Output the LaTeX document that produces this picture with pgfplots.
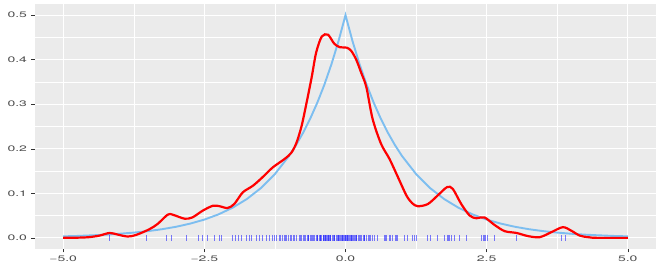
\documentclass[border=0pt]{standalone}
\usepackage{pgfplots}
\pgfplotsset{compat=1.18}
\usepackage{fontspec}
\setmainfont{TeX Gyre Heros}
\usepackage{graphicx}
\definecolor{panel}{HTML}{EBEBEB}
\definecolor{txt}{HTML}{4D4D4D}
\definecolor{tk}{HTML}{333333}
\definecolor{lap}{RGB}{125,190,240}
\newcommand\sx[1]{\scalebox{1.75}[1]{#1}}
\begin{document}
\begin{tikzpicture}
\begin{axis}[
  scale only axis, width=621bp, height=245bp,
  xmin=-5.5, xmax=5.5, ymin=-0.025, ymax=0.525,
  xtick={-5,-2.5,0,2.5,5},
  xticklabels={\sx{−5.0},\sx{−2.5},\sx{0.0},\sx{2.5},\sx{5.0}},
  ytick={0,0.1,0.2,0.3,0.4,0.5},
  yticklabels={\sx{0.0},\sx{0.1},\sx{0.2},\sx{0.3},\sx{0.4},\sx{0.5}},
  minor xtick={-3.75,-1.25,1.25,3.75},
  minor ytick={0.05,0.15,0.25,0.35,0.45},
  grid=both,
  major grid style={white, line width=1.1bp},
  minor grid style={white, line width=0.55bp},
  axis background/.style={fill=panel},
  axis line style={draw=none},
  tick align=outside,
  xtick pos=left, ytick pos=left,
  major tick length=3.5bp, minor tick length=0pt,
  tick style={tk, line width=0.5bp},
  ticklabel style={font=\fontsize{8}{9}\selectfont, text=txt},
  yticklabel style={xshift=-1bp},
  clip=false,
]
\coordinate (pSW) at (rel axis cs:0,0);
\coordinate (pNE) at (rel axis cs:1,1);
% Laplace density
\addplot[lap, line width=1.9bp] coordinates {
(-5,0.0034)(-4.75,0.0043)(-4.5,0.0056)(-4.25,0.0071)(-4,0.0092)(-3.75,0.0118)
(-3.5,0.0151)(-3.25,0.0194)(-3,0.0249)(-2.75,0.0320)(-2.5,0.0410)(-2.25,0.0527)
(-2,0.0677)(-1.75,0.0869)(-1.5,0.1116)(-1.25,0.1433)(-1,0.1839)(-0.875,0.2084)
(-0.75,0.2362)(-0.625,0.2676)(-0.5,0.3033)(-0.375,0.3436)(-0.25,0.3894)(-0.125,0.4412)
(0,0.5)
(0.125,0.4412)(0.25,0.3894)(0.375,0.3436)(0.5,0.3033)(0.625,0.2676)(0.75,0.2362)
(0.875,0.2084)(1,0.1839)(1.25,0.1433)(1.5,0.1116)(1.75,0.0869)(2,0.0677)
(2.25,0.0527)(2.5,0.0410)(2.75,0.0320)(3,0.0249)(3.25,0.0194)(3.5,0.0151)
(3.75,0.0118)(4,0.0092)(4.25,0.0071)(4.5,0.0056)(4.75,0.0043)(5,0.0034)
};
% kernel density estimate
\addplot[red, line width=2.2bp, smooth, tension=0.5] coordinates {
(-5,0)(-4.75,0.0004)(-4.55,0.0015)(-4.36,0.005)(-4.18,0.011)(-4.04,0.0075)
(-3.86,0.003)(-3.71,0.0065)(-3.48,0.019)(-3.33,0.031)(-3.15,0.052)(-3.06,0.052)
(-2.85,0.043)(-2.71,0.046)(-2.53,0.061)(-2.35,0.072)(-2.23,0.071)(-2.09,0.067)
(-1.97,0.076)(-1.82,0.102)(-1.64,0.117)(-1.47,0.136)(-1.29,0.158)(-1.08,0.177)
(-0.96,0.191)(-0.87,0.213)(-0.78,0.250)(-0.70,0.297)(-0.60,0.360)(-0.52,0.416)
(-0.42,0.452)(-0.31,0.456)(-0.20,0.436)(-0.10,0.428)(0.02,0.427)(0.10,0.420)
(0.19,0.400)(0.28,0.370)(0.37,0.338)(0.48,0.267)(0.63,0.211)(0.78,0.177)
(0.93,0.136)(1.08,0.095)(1.18,0.078)(1.28,0.071)(1.46,0.076)(1.64,0.096)
(1.80,0.114)(1.90,0.110)(2.05,0.076)(2.20,0.050)(2.32,0.044)(2.46,0.046)
(2.64,0.029)(2.82,0.015)(3.03,0.011)(3.23,0.004)(3.44,0.0015)(3.65,0.013)
(3.85,0.024)(4.00,0.016)(4.15,0.005)(4.30,0.0015)(4.45,0)(5,0)
};
% rug
\addplot[only marks, mark=|, mark size=3bp, blue, opacity=0.5, mark options={line width=0.8bp}] coordinates {
(-4.18,0)(-3.53,0)(-3.18,0)(-3.09,0)(-2.82,0)(-2.60,0)(-2.54,0)(-2.44,0)(-2.32,0)
(-2.23,0)(-2.20,0)(-2.01,0)(-1.95,0)(-1.89,0)(-1.85,0)(-1.76,0)(-1.70,0)(-1.67,0)(-1.58,0)(-1.52,0)
(-1.47,0)(-1.40,0)(-1.35,0)(-1.30,0)(-1.26,0)(-1.22,0)(-1.17,0)(-1.15,0)(-1.12,0)(-1.08,0)(-1.06,0)(-1.04,0)(-1.01,0)
(-0.98,0)(-0.96,0)(-0.92,0)(-0.90,0)(-0.87,0)(-0.82,0)(-0.80,0)(-0.78,0)(-0.75,0)(-0.73,0)(-0.71,0)(-0.68,0)(-0.66,0)(-0.65,0)
(-0.62,0)(-0.60,0)(-0.58,0)(-0.56,0)(-0.55,0)(-0.52,0)(-0.50,0)(-0.49,0)(-0.47,0)(-0.45,0)(-0.44,0)(-0.42,0)(-0.40,0)
(-0.39,0)(-0.38,0)(-0.36,0)(-0.35,0)(-0.34,0)(-0.32,0)(-0.31,0)(-0.30,0)(-0.28,0)(-0.27,0)(-0.26,0)(-0.24,0)(-0.22,0)(-0.20,0)
(-0.19,0)(-0.17,0)(-0.15,0)(-0.13,0)(-0.12,0)(-0.10,0)(-0.09,0)(-0.08,0)(-0.06,0)(-0.05,0)(-0.04,0)(-0.02,0)(-0.01,0)(0.0,0)
(0.02,0)(0.03,0)(0.04,0)(0.06,0)(0.07,0)(0.08,0)(0.10,0)(0.11,0)(0.12,0)(0.14,0)(0.15,0)(0.17,0)(0.19,0)(0.20,0)(0.22,0)
(0.25,0)(0.26,0)(0.28,0)(0.31,0)(0.33,0)(0.34,0)(0.37,0)(0.40,0)(0.42,0)(0.44,0)(0.48,0)(0.52,0)(0.57,0)
(0.69,0)(0.71,0)(0.73,0)(0.78,0)(0.80,0)(0.83,0)(0.88,0)(0.90,0)(0.92,0)(1.05,0)(1.10,0)(1.19,0)(1.22,0)(1.26,0)
(1.45,0)(1.51,0)(1.63,0)(1.76,0)(1.80,0)(1.82,0)(1.84,0)(1.88,0)(1.93,0)(2.02,0)(2.15,0)
(2.41,0)(2.44,0)(2.46,0)(2.48,0)(2.52,0)(2.64,0)(3.03,0)(3.83,0)(3.90,0)
};
\end{axis}
\pgfresetboundingbox
\path ([shift={(-35bp,-18bp)}]pSW) rectangle ([shift={(8bp,4bp)}]pNE);
\end{tikzpicture}
\end{document}
